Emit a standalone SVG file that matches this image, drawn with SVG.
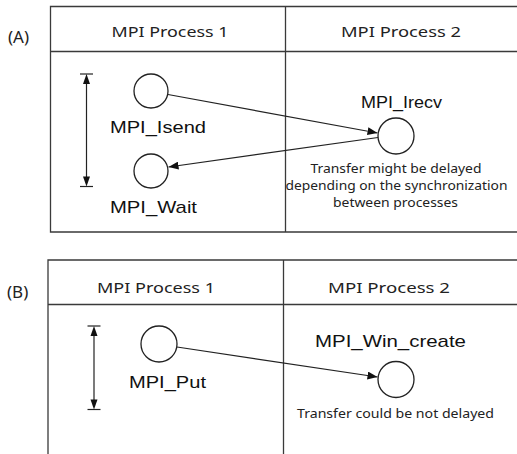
<svg xmlns="http://www.w3.org/2000/svg" width="517" height="454" viewBox="0 0 517 454">
<defs>
<style>
.frame{fill:none;stroke:#3a3a3a;stroke-width:1.3}
.node{fill:#fff;stroke:#222;stroke-width:1.3}
.conn{fill:none;stroke:#222;stroke-width:1.2}
.head{fill:#111;stroke:none}
.hdr{font-family:"Noto Sans","Open Sans",sans-serif;font-size:14.5px;fill:#222;text-anchor:middle}
.lbl{font-family:"Liberation Sans",Arial,sans-serif;font-size:17px;fill:#111}
.cap{font-family:"Noto Sans","Open Sans",sans-serif;font-size:12.5px;fill:#222;text-anchor:middle}
.tag{font-family:"Noto Sans","Open Sans",sans-serif;font-size:17px;fill:#222}
</style>
<marker id="ah" viewBox="0 0 10 8" refX="10" refY="4" markerWidth="10" markerHeight="8" markerUnits="userSpaceOnUse" orient="auto">
<path d="M0,0 L10,4 L0,8 Z" fill="#111"/>
</marker>
</defs>

<g id="panelA">
<path class="frame" d="M517,6.5 H50.5 V232 H517 M50.5,51.5 H517 M285.5,6.5 V232"/>
<text class="tag" x="8" y="43">(A)</text>
<text class="hdr" x="170" y="37" textLength="117" lengthAdjust="spacingAndGlyphs">MPI Process 1</text>
<text class="hdr" x="401" y="37" textLength="120" lengthAdjust="spacingAndGlyphs">MPI Process 2</text>
</g>

<g id="panelB">
<path class="frame" d="M517,260 H48 V454 M48,304.5 H517 M283.5,260 V454"/>
<text class="tag" x="7" y="298">(B)</text>
<text class="hdr" x="156" y="293" textLength="118" lengthAdjust="spacingAndGlyphs">MPI Process 1</text>
<text class="hdr" x="389" y="293" textLength="122" lengthAdjust="spacingAndGlyphs">MPI Process 2</text>
</g>

<g id="dimA">
<line class="conn" x1="80" y1="74" x2="93" y2="74"/>
<line class="conn" x1="80" y1="186.5" x2="93" y2="186.5"/>
<line class="conn" x1="86.5" y1="80" x2="86.5" y2="180"/>
<polygon class="head" points="86.5,74 83,84 90,84"/>
<polygon class="head" points="86.5,186.5 83,176.5 90,176.5"/>
</g>

<g id="dimB">
<line class="conn" x1="87.5" y1="326" x2="100.5" y2="326"/>
<line class="conn" x1="87.5" y1="409.5" x2="100.5" y2="409.5"/>
<line class="conn" x1="94" y1="332" x2="94" y2="403"/>
<polygon class="head" points="94,326 90.5,336 97.5,336"/>
<polygon class="head" points="94,409.5 90.5,399.5 97.5,399.5"/>
</g>

<g id="n-isend">
<circle class="node" cx="151" cy="91" r="17"/>
<text class="lbl" x="110" y="133" textLength="96" lengthAdjust="spacingAndGlyphs">MPI_Isend</text>
</g>
<g id="n-wait">
<circle class="node" cx="151" cy="171" r="17"/>
<text class="lbl" x="110" y="213" textLength="87" lengthAdjust="spacingAndGlyphs">MPI_Wait</text>
</g>
<g id="n-irecv">
<circle class="node" cx="396" cy="136" r="18"/>
<text class="lbl" x="361" y="108" textLength="81" lengthAdjust="spacingAndGlyphs">MPI_Irecv</text>
<text class="cap" x="396" y="173" textLength="171" lengthAdjust="spacingAndGlyphs">Transfer might be delayed</text>
<text class="cap" x="396.5" y="190" textLength="222" lengthAdjust="spacingAndGlyphs">depending on the synchronization</text>
<text class="cap" x="395.5" y="207" textLength="125" lengthAdjust="spacingAndGlyphs">between processes</text>
</g>
<g id="n-put">
<circle class="node" cx="159" cy="344" r="18"/>
<text class="lbl" x="129" y="388" textLength="77" lengthAdjust="spacingAndGlyphs">MPI_Put</text>
</g>
<g id="n-wincreate">
<circle class="node" cx="396" cy="379.5" r="18"/>
<text class="lbl" x="315" y="347" textLength="151" lengthAdjust="spacingAndGlyphs">MPI_Win_create</text>
<text class="cap" x="395.5" y="418" textLength="197" lengthAdjust="spacingAndGlyphs">Transfer could be not delayed</text>
</g>

<g id="connectors">
<line class="conn" x1="168" y1="94.5" x2="377.5" y2="133" marker-end="url(#ah)"/>
<line class="conn" x1="378" y1="137.5" x2="168.5" y2="167" marker-end="url(#ah)"/>
<line class="conn" x1="177" y1="347" x2="377.5" y2="377" marker-end="url(#ah)"/>
</g>
</svg>
